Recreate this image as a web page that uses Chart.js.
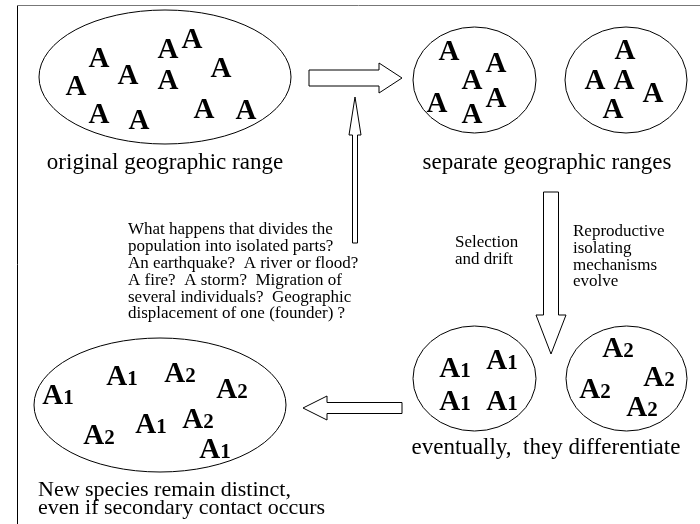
<!DOCTYPE html>
<html>
<head>
<meta charset="utf-8">
<script src="https://cdn.jsdelivr.net/npm/chart.js@4.4.1/dist/chart.umd.min.js"></script>
<style>
  html, body { margin: 0; padding: 0; background: #fff; }
  #wrap { width: 700px; height: 524px; position: relative; }
</style>
</head>
<body>
<div id="wrap"><canvas id="diagram"></canvas></div>
<script>
// letter marks, [x, y] in diagram units (x 0..700, y 0..524 top-down)
const originalRange = [[99, 57], [128, 74], [76, 85], [168, 48], [192, 38], [168, 79],
  [221, 67], [99, 113], [139, 119], [204, 108], [246, 109]];
const separateLeft = [[449, 50], [496, 62], [472, 79], [437, 102], [496, 97], [472, 113]];
const separateRight = [[625, 49], [595, 79], [624, 79], [653, 92], [613, 108]];
const diffA1 = [[455, 367], [502, 359], [455, 400], [502, 400]];
const diffA2 = [[618, 347], [659, 376], [595, 388], [642, 406]];
const mixedA1 = [[58, 394], [122, 375], [151, 423], [215, 448]];
const mixedA2 = [[180, 372], [232, 388], [99, 434], [198, 418]];

// ranges as ellipses: [cx, cy, rx, ry]
const ranges = [[165, 77, 126, 67], [474.5, 80, 61.5, 53], [626, 80, 61, 53],
  [474.5, 378.5, 61.5, 52.5], [626.5, 378.5, 60.5, 52.5], [160, 405, 126, 67]];

// arrows: [tailX, tailY, tipX, tipY, shaftHalf, headHalf, headLen]
const arrows = [[309, 78, 402, 78, 8, 15, 23], [355, 243, 355, 97, 2.5, 6, 38],
  [551, 192, 551, 354, 7.5, 15, 39], [402, 408, 303, 408, 5.5, 12, 24]];

const captions = [
  { text: 'original geographic range', x: 165, y: 163 },
  { text: 'separate geographic ranges', x: 547, y: 163 },
  { text: 'eventually,  they differentiate', x: 546, y: 448 }
];
const finalNote = ['New species remain distinct,', 'even if secondary contact occurs'];
const causeNote = ['What happens that divides the', 'population into isolated parts?',
  'An earthquake?  A river or flood?', 'A fire?  A storm?  Migration of',
  'several individuals?  Geographic', 'displacement of one (founder) ?'];
const driftNote = ['Selection', 'and drift'];
const isolationNote = ['Reproductive', 'isolating', 'mechanisms', 'evolve'];

const SERIF = '"Liberation Serif", "Times New Roman", Times, serif';

const toPts = (arr) => arr.map(([x, y]) => ({ x, y }));

function letterSet(points, label) {
  return { label, data: toPts(points), pointRadius: 0, showLine: false };
}

const diagramPlugin = {
  id: 'diagram',
  afterDatasetsDraw(chart) {
    const { ctx, scales } = chart;
    const px = (v) => scales.x.getPixelForValue(v);
    const py = (v) => scales.y.getPixelForValue(v);
    ctx.save();

    // frame
    ctx.lineWidth = 1;
    ctx.strokeStyle = '#000';
    ctx.beginPath();
    ctx.moveTo(17.5, py(5));
    ctx.lineTo(17.5, py(524));
    ctx.stroke();
    ctx.strokeStyle = '#777';
    ctx.beginPath();
    ctx.moveTo(17, py(5) + 0.5);
    ctx.lineTo(px(700), py(5) + 0.5);
    ctx.stroke();

    // ranges
    ctx.strokeStyle = '#000';
    ranges.forEach(([cx, cy, rx, ry]) => {
      ctx.beginPath();
      ctx.ellipse(px(cx), py(cy), px(cx + rx) - px(cx), py(cy + ry) - py(cy), 0, 0, Math.PI * 2);
      ctx.stroke();
    });

    // arrows
    arrows.forEach(([x1, y1, x2, y2, sw, hw, hl]) => {
      const ax = px(x1), ay = py(y1), bx = px(x2), by = py(y2);
      const len = Math.hypot(bx - ax, by - ay);
      const dx = (bx - ax) / len, dy = (by - ay) / len;
      const nx = -dy, ny = dx;
      const baseX = bx - dx * hl, baseY = by - dy * hl;
      ctx.beginPath();
      ctx.moveTo(ax + nx * sw, ay + ny * sw);
      ctx.lineTo(baseX + nx * sw, baseY + ny * sw);
      ctx.lineTo(baseX + nx * hw, baseY + ny * hw);
      ctx.lineTo(bx, by);
      ctx.lineTo(baseX - nx * hw, baseY - ny * hw);
      ctx.lineTo(baseX - nx * sw, baseY - ny * sw);
      ctx.lineTo(ax - nx * sw, ay - ny * sw);
      ctx.closePath();
      ctx.fillStyle = '#fff';
      ctx.fill();
      ctx.stroke();
    });

    // letters from the datasets
    ctx.fillStyle = '#000';
    ctx.textBaseline = 'alphabetic';
    chart.data.datasets.forEach((ds, i) => {
      const meta = chart.getDatasetMeta(i);
      const sub = ds.label.slice(1);
      meta.data.forEach((pt) => {
        ctx.font = 'bold 29px ' + SERIF;
        const wA = ctx.measureText('A').width;
        ctx.font = 'bold 21px ' + SERIF;
        const wS = sub ? ctx.measureText(sub).width : 0;
        const left = pt.x - (wA + wS) / 2;
        const base = pt.y + 10;
        ctx.font = 'bold 29px ' + SERIF;
        ctx.textAlign = 'left';
        ctx.fillText('A', left, base);
        if (sub) {
          ctx.font = 'bold 21px ' + SERIF;
          ctx.fillText(sub, left + wA, base);
        }
      });
    });

    // captions
    ctx.textBaseline = 'middle';
    ctx.textAlign = 'center';
    ctx.font = '23px ' + SERIF;
    captions.forEach((c) => ctx.fillText(c.text, px(c.x), py(c.y)));

    const block = (lines, x, y, step, size) => {
      ctx.textAlign = 'left';
      ctx.font = size + 'px ' + SERIF;
      lines.forEach((l, k) => ctx.fillText(l, px(x), py(y + k * step)));
    };
    block(finalNote, 38, 490, 18, 22);
    block(causeNote, 128, 230, 16.8, 17);
    block(driftNote, 455, 243, 16.8, 17);
    block(isolationNote, 573, 232, 16.6, 17);

    ctx.restore();
  }
};

new Chart(document.getElementById('diagram'), {
  type: 'scatter',
  data: {
    datasets: [
      letterSet(originalRange, 'A'),
      letterSet(separateLeft, 'A'),
      letterSet(separateRight, 'A'),
      letterSet(diffA1, 'A1'),
      letterSet(diffA2, 'A2'),
      letterSet(mixedA1, 'A1'),
      letterSet(mixedA2, 'A2')
    ]
  },
  options: {
    responsive: true,
    maintainAspectRatio: false,
    animation: false,
    events: [],
    layout: { padding: 0 },
    plugins: { legend: { display: false }, tooltip: { enabled: false } },
    scales: {
      x: { type: 'linear', min: 0, max: 700, display: false },
      y: { type: 'linear', min: 0, max: 524, reverse: true, display: false }
    }
  },
  plugins: [diagramPlugin]
});
</script>
</body>
</html>
